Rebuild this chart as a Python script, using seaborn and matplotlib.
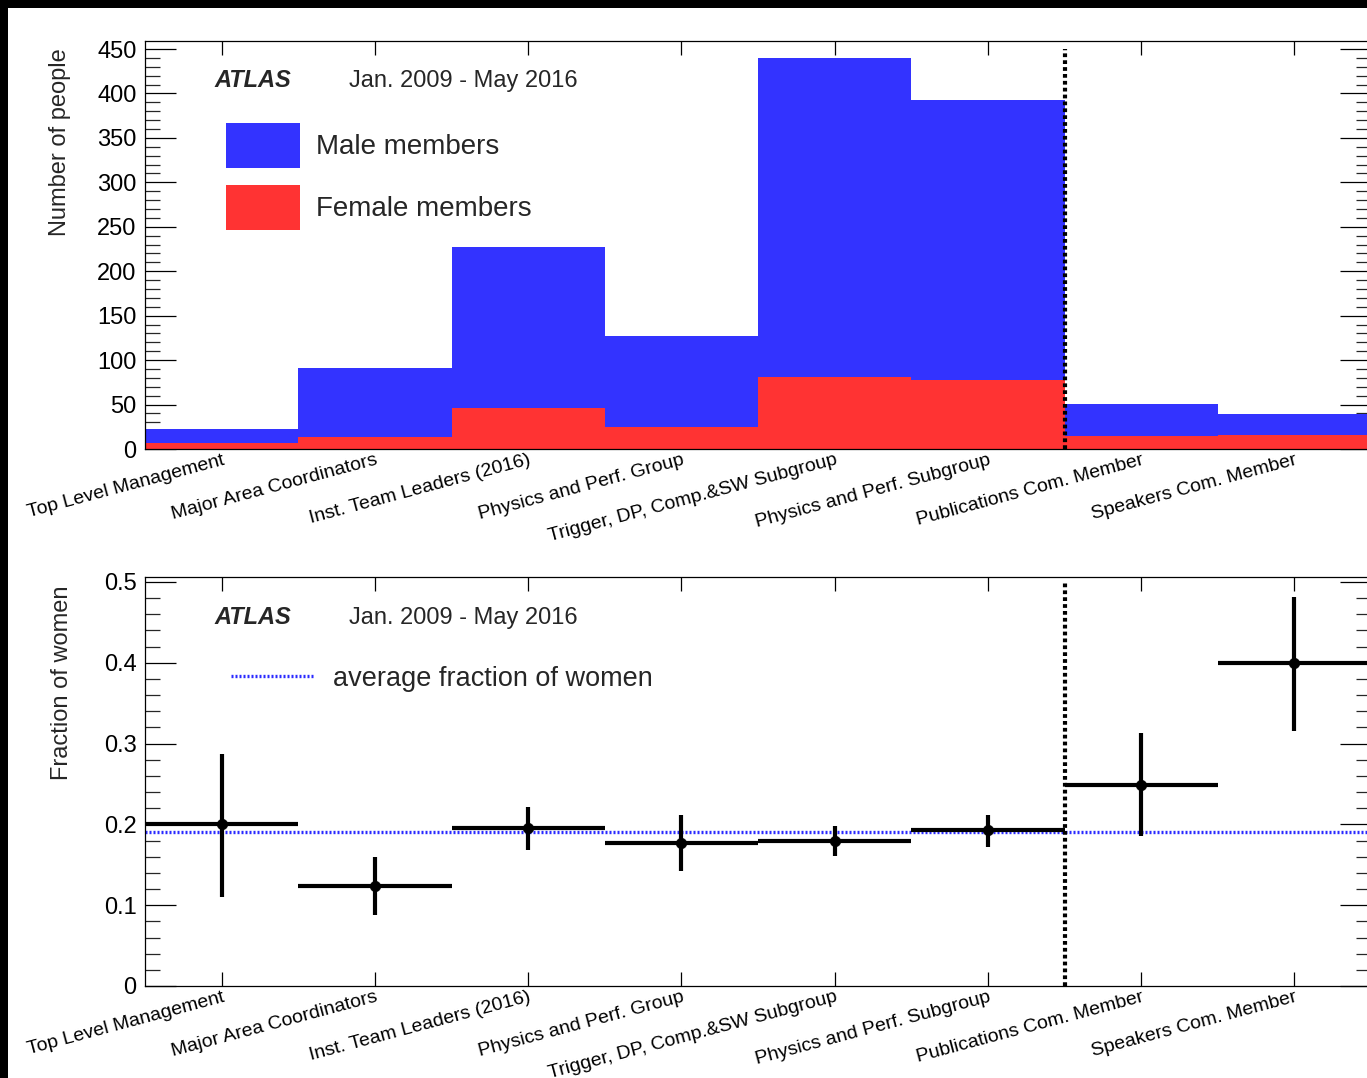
import numpy as np
import pandas as pd
import matplotlib
matplotlib.use("Agg")
import matplotlib.pyplot as plt
from matplotlib.patches import Rectangle, Patch
from matplotlib.lines import Line2D
from matplotlib.ticker import MultipleLocator
import seaborn as sns

# ---------------- data ----------------
categories = [
    "Top Level Management",
    "Major Area Coordinators",
    "Inst. Team Leaders (2016)",
    "Physics and Perf. Group",
    "Trigger, DP, Comp.&SW Subgroup",
    "Physics and Perf. Subgroup",
    "Publications Com. Member",
    "Speakers Com. Member",
]
male_counts = [23, 91, 227, 127, 440, 393, 51, 39]
female_counts = [7, 13, 46, 25, 81, 78, 15, 16]

frac_women = [0.200, 0.124, 0.196, 0.1775, 0.180, 0.193, 0.249, 0.400]
frac_err_up = [0.0875, 0.035, 0.026, 0.0335, 0.018, 0.019, 0.0635, 0.0815]
frac_err_dn = [0.090, 0.036, 0.028, 0.035, 0.0195, 0.021, 0.063, 0.084]
avg_frac = 0.191
separator_after = 5.5  # boundary between bin 6 and 7

BLUE = "#3333ff"
RED = "#ff3333"

sns.set_theme(style="ticks")
plt.rcParams["font.family"] = ["Liberation Sans", "DejaVu Sans"]

W, H = 1367, 1078
fig = plt.figure(figsize=(W / 100, H / 100), dpi=100)
fig.patch.set_facecolor("black")
fig.add_artist(Rectangle((8 / W, 0), 1, 1 - 8 / H, transform=fig.transFigure,
                         facecolor="white", edgecolor="none", zorder=-10))

left = 145 / W
width = (1371 - 145) / W
ax1 = fig.add_axes([left, 1 - 449 / H, width, (449 - 41) / H])
ax2 = fig.add_axes([left, 1 - 986 / H, width, (986 - 577) / H])

df = pd.DataFrame({"category": categories, "male": male_counts, "female": female_counts})

SEP_STYLE = dict(colors="black", linestyles=(0, (0.9, 0.75)), linewidth=3.0, zorder=3)

# ---------------- top panel ----------------
sns.barplot(data=df, x="category", y="male", color=BLUE, saturation=1, width=1.0,
            errorbar=None, ax=ax1, linewidth=0, zorder=1)
sns.barplot(data=df, x="category", y="female", color=RED, saturation=1, width=1.0,
            errorbar=None, ax=ax1, linewidth=0, zorder=1.2)
ax1.vlines(separator_after, 0, 450, **SEP_STYLE)
ax1.set_xlim(-0.5, len(categories) - 0.5)
ax1.set_ylim(0, 459)
ax1.yaxis.set_major_locator(MultipleLocator(50))
ax1.yaxis.set_minor_locator(MultipleLocator(10))

# ---------------- bottom panel ----------------
xpos = np.arange(len(categories))
ax2.axhline(avg_frac, color="#2a2aff", linestyle=(0, (0.6, 0.6)), linewidth=2.4, zorder=1)
ax2.errorbar(xpos, frac_women, yerr=[frac_err_dn, frac_err_up], xerr=0.5,
             fmt="none", ecolor="black", elinewidth=3, capsize=0, zorder=3)
sns.scatterplot(x=xpos, y=frac_women, color="black", s=55, edgecolor="black",
                ax=ax2, zorder=4)
ax2.vlines(separator_after, 0, 0.5, **SEP_STYLE)
ax2.set_xlim(-0.5, len(categories) - 0.5)
ax2.set_ylim(0, 0.506)
ax2.set_xticks(xpos)
ax2.set_xticklabels(categories)
ax2.yaxis.set_major_locator(MultipleLocator(0.1))
ax2.yaxis.set_minor_locator(MultipleLocator(0.02))
ax2.yaxis.set_major_formatter(matplotlib.ticker.FuncFormatter(
    lambda v, p: "0" if abs(v) < 1e-9 else f"{v:.1f}"))

# ---------------- styling common ----------------
for ax in (ax1, ax2):
    ax.set_xlabel("")
    for sp in ax.spines.values():
        sp.set_color("black")
        sp.set_linewidth(0.9)
        sp.set_visible(True)
    ax.tick_params(axis="y", which="major", direction="in", length=22, width=0.9,
                   left=True, right=True, labelsize=17, pad=6, colors="black")
    ax.tick_params(axis="y", which="minor", direction="in", length=11, width=0.9,
                   left=True, right=True)
    ax.tick_params(axis="x", which="major", direction="in", length=10, width=0.9,
                   top=True, bottom=True, labelsize=14, pad=2, colors="black")
    ax.tick_params(axis="x", which="minor", bottom=False, top=False)
    for lab in ax.get_xticklabels():
        lab.set_rotation(15)
        lab.set_ha("right")
        lab.set_va("top")
        lab.set_rotation_mode("anchor")
    ax.set_facecolor("white")

ax1.set_ylabel("Number of people", fontsize=17, loc="top")
ax1.yaxis.set_label_coords(-0.0605, 0.983)
ax2.set_ylabel("Fraction of women", fontsize=17, loc="top")
ax2.yaxis.set_label_coords(-0.0585, 0.980)

for ax, ytxt in ((ax1, 0.903), (ax2, 0.900)):
    ax.text(0.0563, ytxt, "ATLAS", transform=ax.transAxes, fontsize=17,
            fontweight="bold", fontstyle="italic", va="center", ha="left")
    ax.text(0.1664, ytxt, "Jan. 2009 - May 2016", transform=ax.transAxes,
            fontsize=17, va="center", ha="left")

h1 = [Patch(facecolor=BLUE, edgecolor="none"), Patch(facecolor=RED, edgecolor="none")]
leg1 = ax1.legend(h1, ["Male members", "Female members"], loc="upper left",
                  bbox_to_anchor=(0.066, 0.799), frameon=False, fontsize=20,
                  handlelength=2.66, handleheight=2.115, labelspacing=0.61,
                  handletextpad=0.58, borderpad=0, borderaxespad=0)

h2 = [Line2D([0], [0], color="#2a2aff", linestyle=(0, (0.6, 0.6)), linewidth=2.4)]
leg2 = ax2.legend(h2, ["average fraction of women"], loc="center left",
                  bbox_to_anchor=(0.0701, 0.751), frameon=False, fontsize=19.5,
                  handlelength=3.1, handletextpad=0.66, borderpad=0, borderaxespad=0)

fig.savefig("out.png", dpi=100, facecolor=fig.get_facecolor())
